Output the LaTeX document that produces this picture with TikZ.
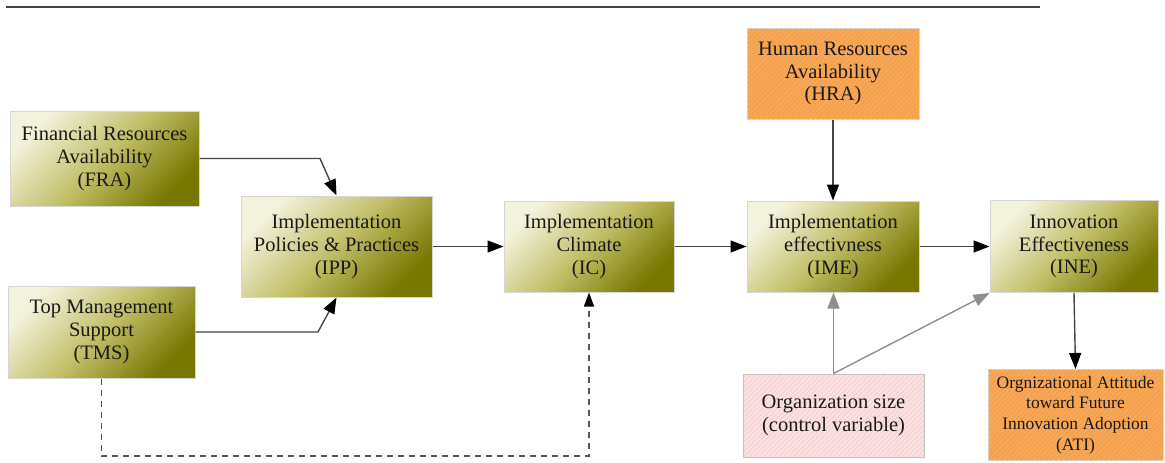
\documentclass[tikz,border=0pt]{standalone}
\usepackage{fontspec}
\setmainfont{Liberation Serif}
\usetikzlibrary{arrows.meta,patterns.meta}

\definecolor{oliveL}{HTML}{F3F2DC}
\definecolor{oliveM}{HTML}{C2BF68}
\definecolor{oliveD}{HTML}{787700}
\definecolor{orangeF}{HTML}{F5A14D}
\definecolor{orangeH}{HTML}{F8B46E}
\definecolor{pinkF}{HTML}{FBE1E1}
\definecolor{pinkH}{HTML}{F2C6C6}
\definecolor{edgeC}{HTML}{D6D6D6}
\definecolor{lineC}{HTML}{444444}
\definecolor{softC}{HTML}{8E8E8E}

\tikzset{
  box/.style={draw=edgeC, line width=1pt, align=center, inner sep=2pt,
    text=black!90, font=\fontsize{20.5}{22.8}\selectfont},
  olivebox/.style={box, top color=oliveL, bottom color=oliveD,
    middle color=oliveM, shading angle=45},
  orangebox/.style={box, fill=orangeF,
    postaction={pattern={Lines[angle=45,distance=3.5pt,line width=0.5pt]},
      pattern color=orangeH}},
  pinkbox/.style={box, fill=pinkF, draw=black!25,
    postaction={pattern={Lines[angle=45,distance=3.5pt,line width=0.5pt]},
      pattern color=pinkH}},
  arr/.style={draw=lineC, line width=1.4pt,
    -{Triangle[width=12pt,length=16pt,color=black]}},
  softarr/.style={draw=softC, line width=1.4pt,
    -{Triangle[width=12pt,length=16pt]}},
  dasharr/.style={draw=lineC!90, line width=1.3pt, dash pattern=on 6pt off 5pt,
    -{Triangle[width=10pt,length=14pt,color=black]}}
}

\begin{document}
\begin{tikzpicture}[x=1pt, y=-1pt]
  \useasboundingbox (0,0) rectangle (1165,463);

  % rule across the top
  \draw[lineC, line width=2pt] (6,7) -- (1040,7);

  % factor boxes
  \node[olivebox, minimum width=189pt, minimum height=95pt] (FRA) at (104.5,158.5)
    {Financial Resources\\Availability\\(FRA)};
  \node[olivebox, minimum width=187pt, minimum height=92pt] (TMS) at (101.5,332)
    {Top Management\\Support\\(TMS)};
  \node[olivebox, minimum width=191pt, minimum height=101pt] (IPP) at (336.5,246.5)
    {Implementation\\Policies \& Practices\\(IPP)};
  \node[olivebox, minimum width=170pt, minimum height=91pt] (IC) at (589,246.5)
    {Implementation\\Climate\\(IC)};
  \node[olivebox, minimum width=172pt, minimum height=91pt] (IME) at (833,246.5)
    {Implementation\\effectivness\\(IME)};
  \node[olivebox, minimum width=168pt, minimum height=92pt] (INE) at (1074,246.5)
    {Innovation\\Effectiveness\\(INE)};
  \node[orangebox, minimum width=172pt, minimum height=91pt] (HRA) at (833,73.5)
    {Human Resources\\Availability\\(HRA)};
  \node[orangebox, minimum width=175pt, minimum height=91pt,
        font=\fontsize{17.5}{20.8}\selectfont] (ATI) at (1075.5,415)
    {Orgnizational Attitude\\toward Future\\Innovation Adoption\\(ATI)};
  \node[pinkbox, minimum width=181pt, minimum height=83pt] (ORG) at (833.5,415.5)
    {Organization size\\(control variable)};

  % bend points of the elbow connectors
  \coordinate (fraBend) at (320,158.5);
  \coordinate (tmsBend) at (318,332);
  \coordinate (dashA) at (101.5,456);
  \coordinate (dashB) at (589,456);

  % connectors
  \draw[arr] (FRA.east) -- (fraBend) -- (IPP.north);
  \draw[arr] (TMS.east) -- (tmsBend) -- (IPP.south);
  \draw[dasharr] (TMS.south) -- (dashA) -- (dashB) -- (IC.south);
  \draw[arr] (IPP.east) -- (IC.west);
  \draw[arr] (IC.east) -- (IME.west);
  \draw[arr] (IME.east) -- (INE.west);
  \draw[arr] (HRA.south) -- (IME.north);
  \draw[arr] (INE.south) -- (ATI.north);
  \draw[softarr] (ORG.north) -- (ORG.north |- IME.south);
  \draw[softarr] (ORG.north) -- (INE.south west);
\end{tikzpicture}
\end{document}
